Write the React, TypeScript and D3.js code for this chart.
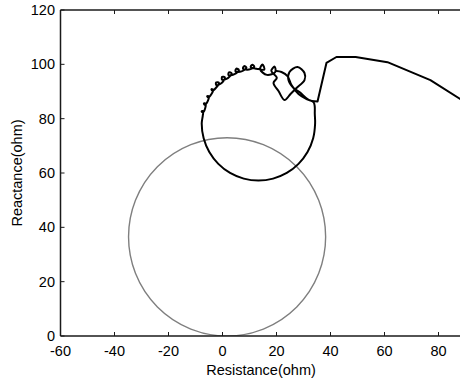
import React from 'react';
import * as d3 from 'd3';

const xTicks = [-60, -40, -20, 0, 20, 40, 60, 80];
const yTicks = [0, 20, 40, 60, 80, 100, 120];
const xDomain = [-60, 90];
const yDomain = [0, 120];

// pre-fault / load approach (piecewise linear)
const approachR = [91, 77.0, 61.1, 49.3, 42.2, 38.5, 35.2, 32.96];
const approachX = [85.4, 94.2, 100.8, 102.7, 102.7, 100.5, 86.3, 86.49];

// power swing trajectory (smooth, with loops)
const swingR = [
  32.96, 31.48, 28.52, 26.3, 24.44, 24.81, 27.78, 30.37, 30.37, 27.41, 25.19, 22.96, 20.74, 18.89,
  20.12, 18.07, 19.31, 19.55,
  16.46, 13.93, 14.82, 15.46,
  12.6, 10.44, 11.02, 11.77,
  9.79, 7.58, 8.03, 8.87,
  7.06, 4.82, 5.13, 6.05,
  4.44, 2.23, 2.4, 3.38,
  2.0, -0.15, -0.12, 0.9,
  -0.22, -2.26, -2.38, -1.34,
  -2.4, -3.84, -4.09, -3.53,
  -4.08, -5.37, -5.68, -5.11,
  -5.43, -6.52, -6.9, -6.34,
  -6.41, -7.29, -7.73, -7.18,
  -7.3, -7.7, -6.98, -4.89, -1.55, 2.8, 7.87, 13.3, 18.73, 23.8, 28.15, 31.49, 33.58, 34.3, 34.18, 34.15,
  33.7, 31.11, 28.15, 25.56, 24.07, 21.85, 20.0,
];
const swingX = [
  86.49, 87.23, 89.81, 91.28, 94.22, 97.17, 99.0, 96.8, 94.22, 91.28, 89.07, 86.87, 90.17, 93.12,
  95.08, 97.62, 99.16, 97.2,
  96.12, 98.19, 99.95, 98.08,
  98.39, 99.0, 99.88, 99.14,
  98.09, 98.4, 99.35, 98.73,
  97.41, 97.41, 98.41, 97.91,
  96.36, 96.04, 97.08, 96.71,
  94.95, 94.33, 95.38, 95.15,
  93.21, 92.31, 93.34, 93.26,
  91.38, 90.33, 90.84, 90.76,
  89.06, 87.82, 88.29, 88.29,
  86.54, 85.13, 85.55, 85.63,
  83.85, 82.3, 82.67, 82.83,
  81.1, 78.2, 72.76, 67.7, 63.35, 60.01, 57.92, 57.2, 57.92, 60.01, 63.35, 67.7, 72.76, 78.2, 81.88, 84.57,
  86.12, 87.23, 89.07, 92.38, 95.69, 97.17, 97.53,
];

// relay characteristic (mho circle)
const mhoCenterR = 1.7;
const mhoCenterX = 36.5;
const mhoRadius = 36.5;

export default function App() {
  const W = 460;
  const H = 381;
  const left = 60.5, right = 465.5, top = 10, bottom = 336;
  const x = d3.scaleLinear().domain(xDomain).range([left, right]);
  const y = d3.scaleLinear().domain(yDomain).range([bottom, top]);

  const lineLin = d3.line<number>().x((_, i) => x(approachR[i])).y((_, i) => y(approachX[i])).curve(d3.curveLinear);
  const lineSmooth = d3.line<number>().x((_, i) => x(swingR[i])).y((_, i) => y(swingX[i])).curve(d3.curveCatmullRom.alpha(0.5));

  const font = "'Liberation Sans', Arial, Helvetica, sans-serif";
  const fs = 14.5;
  const axisColor = '#1a1a1a';
  const tickLen = 4;

  return (
    <svg width={W} height={H} style={{ position: 'absolute', left: 0, top: 0, background: '#fff' }}>
      <defs>
        <clipPath id="plotClip">
          <rect x={left} y={top} width={right - left} height={bottom - top} />
        </clipPath>
      </defs>
      <rect x={0} y={0} width={W} height={H} fill="#fff" />
      <g clipPath="url(#plotClip)">
        <ellipse
          cx={x(mhoCenterR)}
          cy={y(mhoCenterX)}
          rx={x(mhoCenterR + mhoRadius) - x(mhoCenterR)}
          ry={y(0) - y(mhoRadius)}
          fill="none"
          stroke="#7f7f7f"
          strokeWidth={1.4}
        />
        <path d={lineLin(approachR) || ''} fill="none" stroke="#000" strokeWidth={2} strokeLinejoin="round" />
        <path d={lineSmooth(swingR) || ''} fill="none" stroke="#000" strokeWidth={2} strokeLinejoin="round" />
      </g>
      <line x1={left} x2={W} y1={bottom} y2={bottom} stroke={axisColor} strokeWidth={1.5} />
      <line x1={left} x2={W} y1={top} y2={top} stroke={axisColor} strokeWidth={1.5} />
      <line x1={left} x2={left} y1={top} y2={bottom} stroke={axisColor} strokeWidth={1.5} />
      {xTicks.map((t) => (
        <g key={'x' + t}>
          <line x1={x(t)} x2={x(t)} y1={bottom} y2={bottom - tickLen} stroke={axisColor} strokeWidth={1} />
          <line x1={x(t)} x2={x(t)} y1={top} y2={top + tickLen} stroke={axisColor} strokeWidth={1} />
          <text x={x(t)} y={356} textAnchor="middle" fontFamily={font} fontSize={fs} fill="#000">
            {t}
          </text>
        </g>
      ))}
      {yTicks.map((t) => (
        <g key={'y' + t}>
          <line x1={left} x2={left + tickLen} y1={y(t)} y2={y(t)} stroke={axisColor} strokeWidth={1} />
          <text x={55} y={y(t)} dy="0.35em" textAnchor="end" fontFamily={font} fontSize={fs} fill="#000">
            {t}
          </text>
        </g>
      ))}
      <text x={(left + right) / 2 - 2} y={375} textAnchor="middle" fontFamily={font} fontSize={fs} fill="#000">
        Resistance(ohm)
      </text>
      <text
        transform={`translate(22, ${(top + bottom) / 2}) rotate(-90)`}
        textAnchor="middle"
        fontFamily={font}
        fontSize={fs}
        fill="#000"
      >
        Reactance(ohm)
      </text>
    </svg>
  );
}
